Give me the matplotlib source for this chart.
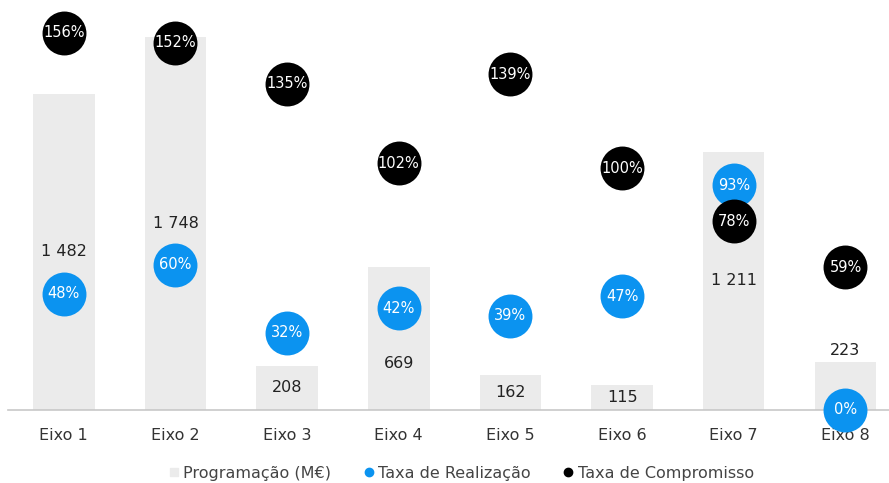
import matplotlib.pyplot as plt
import numpy as np
from matplotlib.lines import Line2D

eixos = ["Eixo 1", "Eixo 2", "Eixo 3", "Eixo 4", "Eixo 5", "Eixo 6", "Eixo 7", "Eixo 8"]
programacao = [1482, 1748, 208, 669, 162, 115, 1211, 223]
taxa_realizacao = [48, 60, 32, 42, 39, 47, 93, 0]
taxa_compromisso = [156, 152, 135, 102, 139, 100, 78, 59]

bar_color = "#EBEBEB"
blue = "#0B93F0"
black = "#000000"
text_color = "#333333"

fig = plt.figure(figsize=(8.89, 4.83), dpi=100)
ax = fig.add_axes([8 / 889, 73 / 483, 881 / 889, 400 / 483])
x = np.arange(len(eixos))

bars = ax.bar(x, programacao, width=0.55, color=bar_color, zorder=1)
# labels mostly centred in the bar; a couple nudged to dodge the dots
offsets = {3: (0, -18)}
for i, (xi, v) in enumerate(zip(x, programacao)):
    label = f"{v:,}".replace(",", " ")
    if i == 7:
        ax.annotate(label, (xi, v), xytext=(0, 3), textcoords="offset points",
                    ha="center", va="bottom", fontsize=11.5, color="#222222")
    else:
        ax.annotate(label, (xi, v / 2), xytext=offsets.get(i, (0, 0)), textcoords="offset points",
                    ha="center", va="center", fontsize=11.5, color="#222222")

ax.set_xlim(-0.5, 7.39)
ax.set_ylim(0, 1874)
ax.set_xticks(x)
ax.set_xticklabels(eixos, fontsize=11.5, color=text_color)
ax.tick_params(axis="x", length=0, pad=13)
ax.set_yticks([])
for s in ["top", "left", "right"]:
    ax.spines[s].set_visible(False)
ax.spines["bottom"].set_color("#C8C8C8")
ax.spines["bottom"].set_linewidth(1.2)

ax2 = ax.twinx()
ax2.set_ylim(0, 165.5)
ax2.set_yticks([])
for s in ax2.spines.values():
    s.set_visible(False)

ax2.scatter(x, taxa_realizacao, s=1000, color=blue, zorder=3, clip_on=False, linewidths=0)
for xi, v in zip(x, taxa_realizacao):
    ax2.text(xi, v, f"{v}%", ha="center", va="center", color="white", fontsize=10.5, zorder=4)
ax2.scatter(x, taxa_compromisso, s=1000, color=black, zorder=5, clip_on=False, linewidths=0)
for xi, v in zip(x, taxa_compromisso):
    ax2.text(xi, v, f"{v}%", ha="center", va="center", color="white", fontsize=10.5, zorder=6)

handles = [
    Line2D([], [], marker="s", linestyle="", color=bar_color, markersize=6),
    Line2D([], [], marker="o", linestyle="", color=blue, markersize=6),
    Line2D([], [], marker="o", linestyle="", color=black, markersize=6),
]
fig.legend(handles, ["Programação (M€)", "Taxa de Realização", "Taxa de Compromisso"],
           loc="center", bbox_to_anchor=(0.519, 0.02), ncol=3, frameon=False,
           fontsize=11.5, handlelength=0.6, handletextpad=0.3, columnspacing=2.05,
           labelcolor="#444444")

fig.savefig("out.png", dpi=100)
